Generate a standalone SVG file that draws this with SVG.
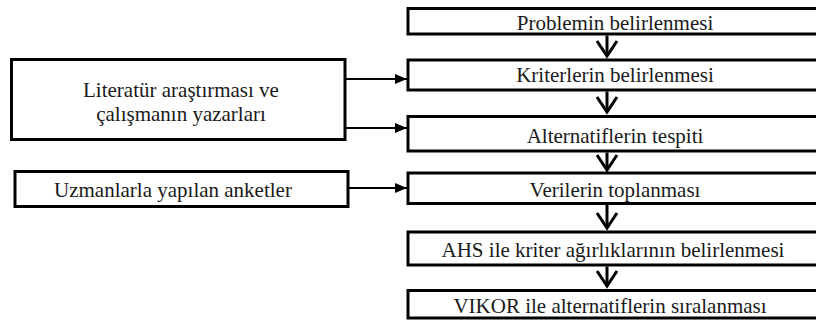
<svg xmlns="http://www.w3.org/2000/svg" width="816" height="320" viewBox="0 0 816 320">
  <defs>
    <style>
      .box { fill: #ffffff; stroke: #000000; stroke-width: 3; }
      .lbl { font-family: "Liberation Serif", "Times New Roman", serif; font-size: 21px; font-weight: 400; fill: #1a1a1a; text-anchor: middle; }
      .flow { stroke: #000000; stroke-width: 3; fill: none; marker-end: url(#chev); }
      .feed { stroke: #000000; stroke-width: 2; fill: none; marker-end: url(#tri); }
    </style>
    <!-- open chevron head for the main downward sequence -->
    <marker id="chev" viewBox="-2 -2 20 24" refX="15" refY="10" markerWidth="20" markerHeight="24" markerUnits="userSpaceOnUse" orient="auto" overflow="visible">
      <path d="M0,0 L15,10 L0,20" fill="none" stroke="#000000" stroke-width="3" stroke-linejoin="miter"/>
    </marker>
    <!-- solid triangle head for the input arrows -->
    <marker id="tri" viewBox="0 0 12 10" refX="12" refY="5" markerWidth="12" markerHeight="10" markerUnits="userSpaceOnUse" orient="auto">
      <path d="M0,0 L12,5 L0,10 Z" fill="#000000"/>
    </marker>
  </defs>

  <rect width="816" height="320" fill="#ffffff"/>

  <!-- connectors -->
  <g id="connectors">
    <line class="flow" x1="607" y1="35.5" x2="607" y2="56"/>
    <line class="flow" x1="607" y1="91.5" x2="607" y2="112"/>
    <line class="flow" x1="607" y1="152.5" x2="607" y2="170"/>
    <line class="flow" x1="607" y1="205" x2="607" y2="228"/>
    <line class="flow" x1="607" y1="266.5" x2="607" y2="286"/>
    <line class="feed" x1="345" y1="79" x2="407" y2="79"/>
    <line class="feed" x1="345" y1="128" x2="407" y2="128"/>
    <line class="feed" x1="348" y1="188" x2="407" y2="188"/>
  </g>

  <!-- process steps -->
  <g id="step-problem">
    <rect class="box" x="408" y="8.5" width="420" height="25.5"/>
    <text class="lbl" x="615" y="30">Problemin belirlenmesi</text>
  </g>
  <g id="step-criteria">
    <rect class="box" x="408" y="60" width="420" height="30"/>
    <text class="lbl" x="615" y="82">Kriterlerin belirlenmesi</text>
  </g>
  <g id="step-alternatives">
    <rect class="box" x="408" y="116.5" width="420" height="34.5"/>
    <text class="lbl" x="615" y="143">Alternatiflerin tespiti</text>
  </g>
  <g id="step-data">
    <rect class="box" x="408" y="173" width="420" height="30.5"/>
    <text class="lbl" x="615" y="197">Verilerin toplanması</text>
  </g>
  <g id="step-ahs">
    <rect class="box" x="408" y="232" width="420" height="33"/>
    <text class="lbl" x="613" y="257">AHS ile kriter ağırlıklarının belirlenmesi</text>
  </g>
  <g id="step-vikor">
    <rect class="box" x="408" y="290.5" width="420" height="27.5"/>
    <text class="lbl" x="610" y="313">VIKOR ile alternatiflerin sıralanması</text>
  </g>

  <!-- inputs -->
  <g id="input-literature">
    <rect class="box" x="11.5" y="59.5" width="333.5" height="80"/>
    <text class="lbl" x="181" y="97">Literatür araştırması ve</text>
    <text class="lbl" x="181" y="121">çalışmanın yazarları</text>
  </g>
  <g id="input-experts">
    <rect class="box" x="15" y="171.5" width="333" height="35"/>
    <text class="lbl" x="173" y="197">Uzmanlarla yapılan anketler</text>
  </g>
</svg>
